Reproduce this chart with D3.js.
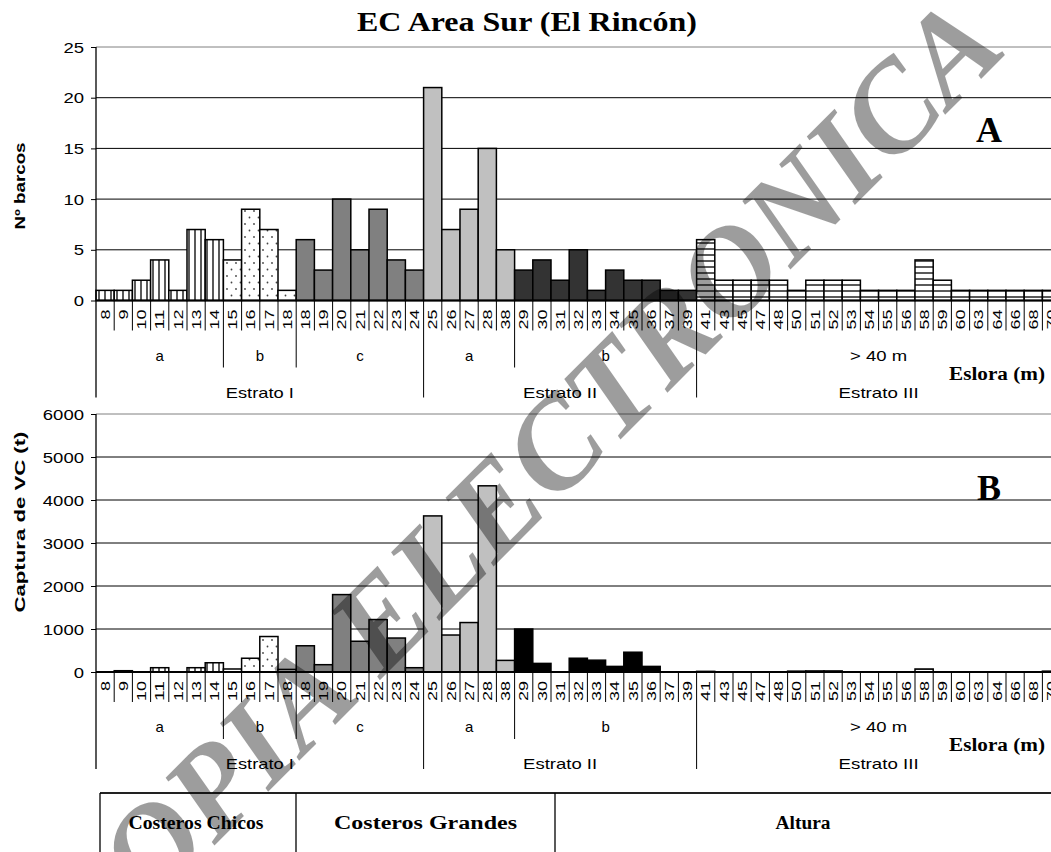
<!DOCTYPE html>
<html><head><meta charset="utf-8">
<script src="https://cdn.jsdelivr.net/npm/d3@7"></script>
<style>body{margin:0;background:#fff}svg{display:block}</style>
</head><body>
<svg id="chart" width="1051" height="852"></svg>
<script>
// ---------- data ----------
const categories = ["8","9","10","11","12","13","14","15","16","17","18","18","19","20","21","22","23","24","25","26","27","28","38","29","30","31","32","33","34","35","36","37","39","41","43","45","47","48","50","51","52","53","54","55","56","58","59","60","63","64","66","68","70"];
const nBarcos = [1,1,2,4,1,7,6, 4,9,7,1, 6,3,10,5,9,4,3, 21,7,9,15,5, 3,4,2,5,1,3,2,2,1,1, 6,2,2,2,2,1,2,2,2,1,1,1,4,2,1,1,1,1,1,1];
const capturaVC = [0,30,0,100,0,100,215, 70,320,825,60, 610,170,1800,715,1220,790,100, 3630,860,1150,4330,270, 1000,200,0,320,275,130,460,130,0,0, 15,0,0,0,0,20,25,25,0,0,0,0,70,0,0,0,0,0,0,20];
const groupLabels = ["a","b","c","a","b","> 40 m"];
const groupSizes = [7,4,7,5,10,20];
const strataLabels = ["Estrato I","Estrato II","Estrato III"];
const strataSizes = [18,15,20];
const ticksA = [0,5,10,15,20,25];
const ticksB = [0,1000,2000,3000,4000,5000,6000];
const tableLabels = ["Costeros Chicos","Costeros Grandes","Altura"];
const title = "EC Area Sur (El Rincón)";

// ---------- setup ----------
const svg = d3.select("#chart");
const SANS = "'Liberation Sans', Arial, sans-serif";
const SERIF = "'Liberation Serif', 'Times New Roman', serif";
const defs = svg.append("defs");
const pv = defs.append("pattern").attr("id","vstripe").attr("patternUnits","userSpaceOnUse").attr("width",6).attr("height",10);
pv.append("rect").attr("width",6).attr("height",10).attr("fill","#fff");
pv.append("line").attr("x1",3).attr("x2",3).attr("y1",0).attr("y2",10).attr("stroke","#000").attr("stroke-width",1.3);
const pd = defs.append("pattern").attr("id","dots").attr("patternUnits","userSpaceOnUse").attr("width",9).attr("height",13);
pd.append("rect").attr("width",9).attr("height",13).attr("fill","#fff");
pd.append("circle").attr("cx",2).attr("cy",3).attr("r",0.9).attr("fill","#444");
pd.append("circle").attr("cx",6.5).attr("cy",9.5).attr("r",0.9).attr("fill","#444");
const ph = defs.append("pattern").attr("id","hstripe").attr("patternUnits","userSpaceOnUse").attr("width",10).attr("height",6);
ph.append("rect").attr("width",10).attr("height",6).attr("fill","#fff");
ph.append("line").attr("x1",0).attr("x2",10).attr("y1",3).attr("y2",3).attr("stroke","#000").attr("stroke-width",1.3);

const bw = 18.2, x0 = 96, W = 1051;
const x = d3.scaleBand().domain(d3.range(categories.length)).range([x0, x0 + bw*categories.length]).padding(0);
const groupIndex = [];
groupSizes.forEach((n,g)=>{ for(let k=0;k<n;k++) groupIndex.push(g); });
const cum = a => a.reduce((acc,n)=>{acc.push(acc[acc.length-1]+n);return acc;},[0]);
const groupBounds = cum(groupSizes), strataBounds = cum(strataSizes);

function txt(g, s, o){
  const t = g.append("text").text(s)
    .attr("font-family", o.font||SANS).attr("font-size", o.size||14)
    .attr("font-weight", o.weight||"normal").attr("text-anchor", o.anchor||"middle")
    .attr("transform", `translate(${o.x},${o.y})` + (o.rot?` rotate(${o.rot})`:""))
    .attr("fill", o.fill||"#000");
  if (o.len) t.attr("textLength", o.len).attr("lengthAdjust","spacingAndGlyphs");
  if (o.style) t.attr("font-style", o.style);
  return t;
}

function panel(cfg){
  const g = svg.append("g");
  const y = d3.scaleLinear().domain([0, cfg.max]).range([cfg.y0, cfg.y1]);
  // gridlines
  g.selectAll("line.grid").data(cfg.ticks.filter(v=>v>0)).join("line")
    .attr("x1",x0).attr("x2",W).attr("y1",d=>y(d)).attr("y2",d=>y(d))
    .attr("stroke",d=>d===cfg.max?"#808080":"#000").attr("stroke-width",1);
  // bars
  const fills = ["url(#vstripe)","url(#dots)","#808080","#c0c0c0",cfg.dark,"url(#hstripe)"];
  g.selectAll("rect.bar").data(cfg.values.map((v,i)=>({v,i})).filter(d=>d.v>0)).join("rect")
    .attr("x",d=>x(d.i)).attr("width",x.bandwidth())
    .attr("y",d=>y(d.v)).attr("height",d=>cfg.y0-y(d.v))
    .attr("fill",d=>fills[groupIndex[d.i]]).attr("stroke","#000").attr("stroke-width",1.5);
  // x axis line
  g.append("line").attr("x1",x0).attr("x2",W).attr("y1",cfg.y0).attr("y2",cfg.y0).attr("stroke","#000").attr("stroke-width",2);
  // y axis
  const ya = g.append("g").attr("transform",`translate(${x0},0)`)
    .call(d3.axisLeft(y).tickValues(cfg.ticks).tickSize(5).tickPadding(7).tickFormat(d3.format("d")));
  ya.select(".domain").remove();
  ya.selectAll(".tick line").attr("stroke","#000");
  ya.selectAll(".tick text").attr("font-family",SANS).attr("font-size",14).attr("fill","#000")
    .attr("dy","0.36em").each(function(d){ d3.select(this).attr("textLength",10.3*String(d).length).attr("lengthAdjust","spacingAndGlyphs"); });
  g.append("line").attr("x1",x0).attr("x2",x0).attr("y1",cfg.y1).attr("y2",cfg.y0+97).attr("stroke","#000").attr("stroke-width",1.3);
  // category separators
  g.selectAll("line.sep").data(d3.range(1,categories.length)).join("line")
    .attr("x1",i=>x0+i*bw).attr("x2",i=>x0+i*bw).attr("y1",cfg.y0).attr("y2",i=>{
      if (strataBounds.includes(i)) return cfg.y0+97;
      if (groupBounds.includes(i)) return cfg.y0+67;
      return cfg.y0+30; })
    .attr("stroke","#000").attr("stroke-width",1);
  // category labels via axis
  const xa = g.append("g").attr("transform",`translate(0,${cfg.y0})`)
    .call(d3.axisBottom(x).tickSize(0).tickFormat(i=>categories[i]));
  xa.select(".domain").remove();
  xa.selectAll(".tick text").attr("font-family",SANS).attr("font-size",13).attr("fill","#000")
    .attr("x",0).attr("y",0).attr("dy",0).attr("text-anchor","end")
    .attr("transform","translate(4.6,9) rotate(-90)")
    .each(function(i){ d3.select(this).attr("textLength",10*categories[i].length).attr("lengthAdjust","spacingAndGlyphs"); });
  // group labels
  groupLabels.forEach((s,k)=>{
    const cx = (x0+groupBounds[k]*bw + x0+groupBounds[k+1]*bw)/2;
    txt(g, s, {x:cx, y:cfg.y0+60, size:15, len: s.length>1?57:null});
  });
  strataLabels.forEach((s,k)=>{
    const cx = (x0+strataBounds[k]*bw + x0+strataBounds[k+1]*bw)/2;
    txt(g, s, {x:cx, y:cfg.y0+97, size:15, len: [68,74,80][k]});
  });
  txt(g, "Eslora (m)", {x:1045, y:cfg.y0+79, size:18, weight:"bold", font:SERIF, anchor:"end", len:96});
  txt(g, cfg.label, {x:25, y:cfg.labelY, size:14, weight:"bold", rot:-90, len:cfg.labelLen});
  txt(g, cfg.letter, {x:989, y:cfg.letterY, size:36, weight:"bold", font:SERIF});
}

txt(svg, title, {x:527, y:31, size:28, weight:"bold", font:SERIF, len:340});

panel({values:nBarcos, max:25, ticks:ticksA, y0:300.5, y1:47, dark:"#333333",
  label:"Nº barcos", labelY:186, labelLen:87, letter:"A", letterY:142});
panel({values:capturaVC, max:6000, ticks:ticksB, y0:672, y1:414, dark:"#000000",
  label:"Captura de VC (t)", labelY:522, labelLen:181, letter:"B", letterY:500});

// table
const tb = svg.append("g");
const tY = 793, tX = [100,296,555,W];
tb.append("line").attr("x1",tX[0]).attr("x2",W).attr("y1",tY).attr("y2",tY).attr("stroke","#222").attr("stroke-width",2);
tX.slice(0,3).forEach(xx=>tb.append("line").attr("x1",xx).attr("x2",xx).attr("y1",tY).attr("y2",852).attr("stroke","#000").attr("stroke-width",1.3));
const tLens = [135,183,55];
tableLabels.forEach((s,k)=>txt(tb, s, {x:(tX[k]+tX[k+1])/2 - (k==0?2:0), y:829, size:18, weight:"bold", font:SERIF, len:tLens[k]}));

// watermark
txt(svg, "COPIA ELECTRONICA", {x:550, y:510, rot:-45, size:126, weight:"bold", style:"italic", font:SERIF, anchor:"middle", fill:"#000"}).attr("opacity",0.38);
</script>
</body></html>
